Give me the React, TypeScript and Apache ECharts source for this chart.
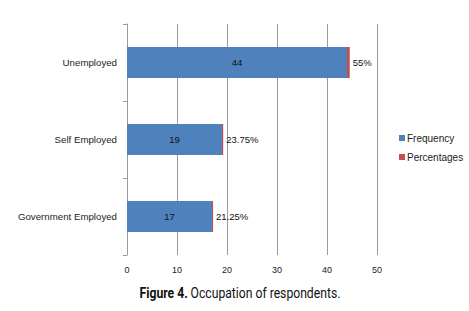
import React, { useEffect, useRef } from "react";
import * as echarts from "echarts";

const categories = ["Government Employed", "Self Employed", "Unemployed"];
const frequency = [17, 19, 44];
const percentages = [21.25, 23.75, 55];
const xTicks = [0, 10, 20, 30, 40, 50];

export default function App() {
  const ref = useRef<HTMLDivElement>(null);
  useEffect(() => {
    const chart = echarts.init(ref.current!, null, { renderer: "svg" });
    const font = "Liberation Sans";
    const capFont = "Roboto, sans-serif";
    chart.setOption({
      animation: false,
      backgroundColor: "#ffffff",
      graphic: [
        {
          type: "text",
          x: 240,
          y: 293,
          scaleX: 0.84,
          style: {
            text: "{b|Figure 4.} {n|Occupation of respondents.}",
            align: "center",
            verticalAlign: "middle",
            rich: {
              b: { fontFamily: capFont, fontWeight: "bold", fontSize: 14.5, fill: "#111" },
              n: { fontFamily: capFont, fontSize: 14.5, fill: "#111" },
            },
          },
        },
      ],
      legend: {
        orient: "vertical",
        left: 399,
        top: 133,
        padding: 0,
        itemWidth: 6,
        itemHeight: 6,
        itemGap: 9,
        icon: "rect",
        textStyle: { fontFamily: font, fontSize: 10, color: "#222", padding: [0, 0, 0, -3] },
        data: ["Frequency", "Percentages"],
      },
      grid: { left: 127, right: 92, top: 24, bottom: 56, containLabel: false },
      xAxis: {
        type: "value",
        min: xTicks[0],
        max: xTicks[xTicks.length - 1],
        interval: 10,
        axisLine: { show: false },
        axisTick: { show: false },
        splitLine: { show: true, lineStyle: { color: "#9a9a9a", width: 1 } },
        axisLabel: { fontFamily: font, fontSize: 9, color: "#222", margin: 10 },
      },
      yAxis: {
        type: "category",
        data: categories,
        axisLine: { show: true, lineStyle: { color: "#9a9a9a" } },
        axisTick: { show: true, length: 4, lineStyle: { color: "#9a9a9a" } },
        axisLabel: { fontFamily: font, fontSize: 9.7, color: "#222", margin: 10 },
      },
      series: [
        {
          name: "Frequency",
          type: "bar",
          stack: "total",
          barWidth: 31,
          data: frequency,
          itemStyle: { color: "#4F81BD" },
          label: { show: true, position: "inside", fontFamily: font, fontSize: 9.5, color: "#111" },
        },
        {
          name: "Percentages",
          type: "bar",
          stack: "total",
          barWidth: 31,
          data: percentages.map((p) => p / 100),
          itemStyle: { color: "#C0504D" },
          label: {
            show: true,
            position: "right",
            distance: 3,
            fontFamily: font,
            fontSize: 9.5,
            color: "#111",
            formatter: (p: any) => percentages[p.dataIndex] + "%",
          },
        },
      ],
    });
    return () => chart.dispose();
  }, []);
  return (
    <div
      ref={ref}
      style={{ position: "absolute", left: 0, top: 0, width: 469, height: 311 }}
    />
  );
}
